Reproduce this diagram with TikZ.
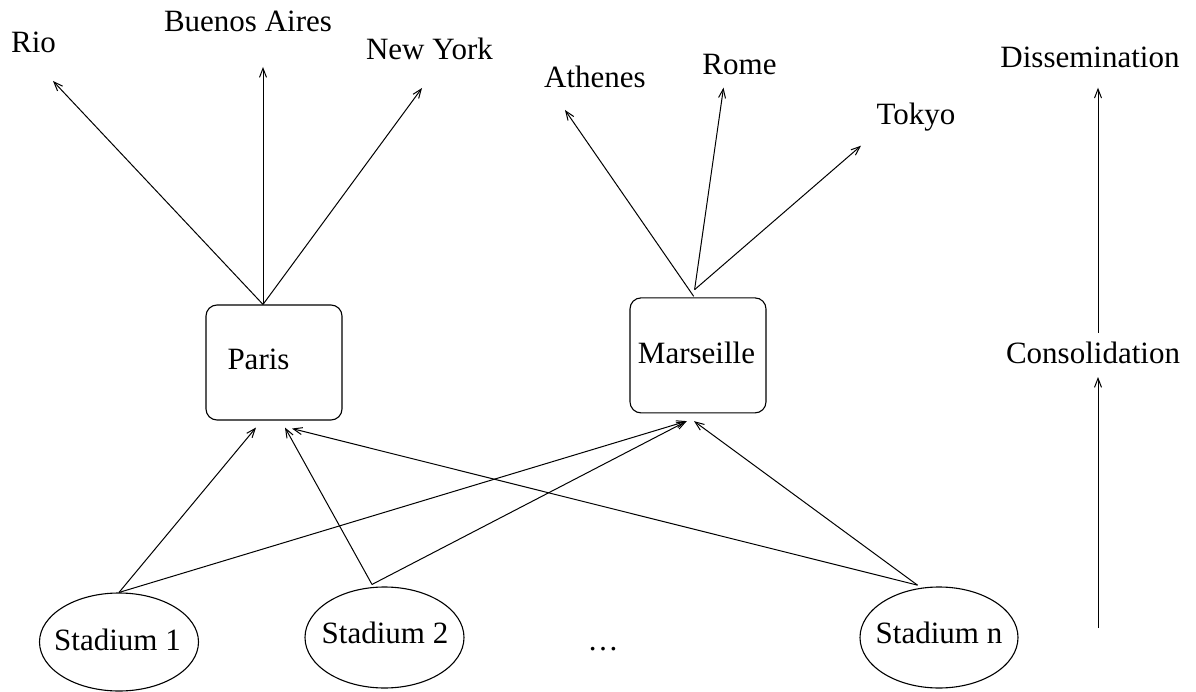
\documentclass[tikz,border=0pt]{standalone}
\usepackage{fontspec}
\setmainfont{Liberation Serif}
\usetikzlibrary{arrows.meta,shapes.geometric}
\begin{document}
\begin{tikzpicture}[x=1pt,y=-1pt,
 lbl/.style={font=\fontsize{31}{37}\selectfont, anchor=base, inner sep=0pt},
 hub/.style={draw, line width=1.1pt, rounded corners=11pt, minimum width=136pt, minimum height=115pt, inner sep=0pt},
 venue/.style={draw, ellipse, line width=1.1pt, minimum width=159pt, minimum height=100pt, inner sep=0pt},
 link/.style={line width=1pt, -{Straight Barb[length=9pt,width=7pt,line width=1pt]}}]
\useasboundingbox (0,0) rectangle (1196,692);
% boxes and ellipses
\node[hub] (paris) at (274,362.5) {};
\node[hub] (mars) at (698,355.4) {};
\node[venue, minimum height=98pt] (s1) at (119,642) {};
\node[venue, minimum height=101pt] (s2) at (384.5,637.5) {};
\node[venue, minimum height=101pt, minimum width=158pt] (sn) at (939,637.5) {};
% labels
\node[lbl] (parist) at (258.5,369) {Paris};
\node[lbl] (marst) at (696.5,363) {Marseille};
\node[lbl] (s1t) at (117.5,650) {Stadium 1};
\node[lbl] (s2t) at (385,643) {Stadium 2};
\node[lbl] (snt) at (939,643) {Stadium n};
\node[lbl] (dots) at (603,650) {\ldots};
\node[lbl] (rio) at (33.5,53) {Rio};
\node[lbl] (ba) at (248,32) {Buenos Aires};
\node[lbl] (ny) at (429.5,60) {New York};
\node[lbl] (ath) at (595,88) {Athenes};
\node[lbl] (rome) at (739.5,75) {Rome};
\node[lbl] (tokyo) at (916,125) {Tokyo};
\node[lbl] (diss) at (1090,68) {Dissemination};
\node[lbl] (cons) at (1093,363) {Consolidation};
\coordinate (base) at (1098,628);
% Paris dissemination
\draw[link] ([xshift=-11pt]paris.north) -- ([xshift=19.5pt,yshift=-28pt]rio.base);
\draw[link] ([xshift=-11pt]paris.north) -- ([xshift=15pt,yshift=-35pt]ba.base);
\draw[link] ([xshift=-11pt]paris.north) -- ([xshift=-7.5pt,yshift=-28pt]ny.base);
% Marseille dissemination
\draw[link] ([xshift=-4.3pt,yshift=1pt]mars.north) -- ([xshift=-30pt,yshift=-22pt]ath.base);
\draw[link] ([xshift=-3.4pt,yshift=7.7pt]mars.north) -- ([xshift=-16pt,yshift=-12.7pt]rome.base);
\draw[link] ([xshift=-3.4pt,yshift=7.7pt]mars.north) -- ([xshift=-55pt,yshift=-20.7pt]tokyo.base);
% consolidation
\draw[link] (s1.north) -- ([xshift=-18pt,yshift=-7pt]paris.south);
\draw[link] (s1.north) -- ([xshift=-11.3pt,yshift=-7.7pt]mars.south);
\draw[link] ([xshift=-12.5pt,yshift=2pt]s2.north) -- ([xshift=11pt,yshift=-7pt]paris.south);
\draw[link] ([xshift=-12.5pt,yshift=2pt]s2.north) -- ([xshift=-11.3pt,yshift=-7.7pt]mars.south);
\draw[link] ([xshift=-21.5pt,yshift=1.3pt]sn.north) -- ([xshift=18pt,yshift=-8pt]paris.south);
\draw[link] ([xshift=-21.5pt,yshift=1.3pt]sn.north) -- ([xshift=-4pt,yshift=-7.7pt]mars.south);
% side axis
\draw[link] (base) -- ([xshift=5pt,yshift=-14pt]cons.base);
\draw[link] ([xshift=5pt,yshift=30pt]cons.base) -- ([xshift=8pt,yshift=-19.7pt]diss.base);
\end{tikzpicture}
\end{document}
